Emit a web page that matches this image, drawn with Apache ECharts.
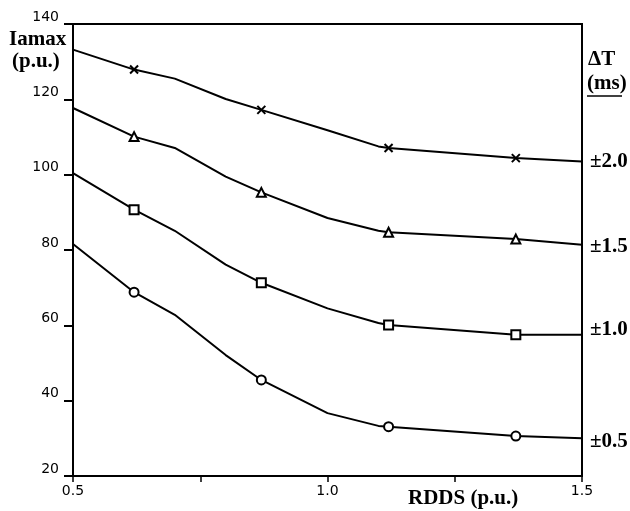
<!DOCTYPE html>
<html>
<head>
<meta charset="utf-8">
<script src="https://cdn.jsdelivr.net/npm/echarts@6/dist/echarts.min.js"></script>
<style>
html,body{margin:0;padding:0;background:#fff;}
#chart{width:630px;height:511px;}
</style>
</head>
<body>
<div id="chart"></div>
<script>
// ---- data ----
var seriesLabels = ['±2.0', '±1.5', '±1.0', '±0.5'];
var curveX = [0.5, 0.62, 0.7, 0.8, 0.87, 1.0, 1.1, 1.12, 1.37, 1.5];
var curve20 = [133.2, 127.9, 125.5, 120.1, 117.2, 111.8, 107.5, 107.1, 104.4, 103.5];
var curve15 = [117.7, 110.1, 107.1, 99.5, 95.3, 88.5, 85.1, 84.7, 82.9, 81.4];
var curve10 = [100.4, 90.7, 85.1, 76.1, 71.3, 64.5, 60.6, 60.1, 57.5, 57.5];
var curve05 = [81.6, 68.8, 62.8, 52.1, 45.5, 36.7, 33.3, 33.1, 30.6, 30.0];
var markerX = [0.62, 0.87, 1.12, 1.37];
var marker20 = [127.9, 117.2, 107.1, 104.4];
var marker15 = [110.1, 95.3, 84.7, 82.9];
var marker10 = [90.7, 71.3, 60.1, 57.5];
var marker05 = [68.8, 45.5, 33.1, 30.6];
var xTickLabels = ['0.5', '1.0', '1.5'];
var yTickLabels = ['20', '40', '60', '80', '100', '120', '140'];

function pairs(xs, ys) { return xs.map(function (x, i) { return [x, ys[i]]; }); }

var curves = [curve20, curve15, curve10, curve05];
var markers = [marker20, marker15, marker10, marker05];
var symbols = ['path://M0,0L10,10M0,10L10,0', 'triangle', 'rect', 'circle'];
var labelOffsets = [[0, 0], [0, 2], [0, -5], [0, 3]];

var serif = '"Liberation Serif", "Times New Roman", serif';
var sans = '"DejaVu Sans", sans-serif';

var series = [];
curves.forEach(function (c, i) {
  series.push({
    type: 'line',
    data: pairs(curveX, c),
    symbol: 'none',
    lineStyle: { color: '#000', width: 2 },
    silent: true,
    z: 2,
    endLabel: {
      show: true,
      formatter: seriesLabels[i],
      distance: 8,
      offset: labelOffsets[i],
      color: '#000',
      fontFamily: serif,
      fontWeight: 'bold',
      fontSize: 21
    }
  });
  series.push({
    type: 'scatter',
    data: pairs(markerX, markers[i]),
    symbol: symbols[i],
    symbolSize: i === 0 ? 8 : 9,
    itemStyle: { color: '#fff', borderColor: '#000', borderWidth: 2, opacity: 1 },
    z: 5
  });
});

var chart = echarts.init(document.getElementById('chart'), null, { renderer: 'canvas' });
chart.setOption({
  animation: false,
  backgroundColor: '#fff',
  grid: { left: 73, right: 48, top: 24, bottom: 35, show: true, borderColor: '#000', borderWidth: 2, backgroundColor: 'transparent' },
  xAxis: {
    type: 'value', min: 0.5, max: 1.5, interval: 0.25,
    splitLine: { show: false },
    axisLine: { lineStyle: { color: '#000', width: 2 } },
    axisTick: { show: true, length: 6, lineStyle: { color: '#000', width: 1.5 } },
    axisLabel: {
      margin: 8, color: '#000', fontFamily: sans, fontSize: 14,
      formatter: function (v) {
        var s = v.toFixed(1);
        return (Math.abs(v * 2 - Math.round(v * 2)) < 1e-6 && xTickLabels.indexOf(s) >= 0) ? s : '';
      }
    }
  },
  yAxis: {
    type: 'value', min: 20, max: 140, interval: 20,
    splitLine: { show: false },
    axisLine: { lineStyle: { color: '#000', width: 2 } },
    axisTick: { show: true, length: 9, lineStyle: { color: '#000', width: 2 } },
    axisLabel: {
      margin: 14, color: '#000', fontFamily: sans, fontSize: 14, verticalAlign: 'bottom',
      formatter: function (v) { var s = String(Math.round(v)); return yTickLabels.indexOf(s) >= 0 ? s : ''; }
    }
  },
  graphic: [
    { type: 'text', left: 9, top: 29, style: { text: 'Iamax', font: 'bold 21px ' + serif, fill: '#000' } },
    { type: 'text', left: 12, top: 51, style: { text: '(p.u.)', font: 'bold 21px ' + serif, fill: '#000' } },
    { type: 'text', left: 588, top: 49, style: { text: 'ΔT', font: 'bold 21px ' + serif, fill: '#000' } },
    { type: 'text', left: 587, top: 73, style: { text: '(ms)', font: 'bold 21px ' + serif, fill: '#000' } },
    { type: 'line', shape: { x1: 587, y1: 96, x2: 622, y2: 96 }, style: { stroke: '#000', lineWidth: 1.5 } },
    { type: 'text', left: 408, top: 488, style: { text: 'RDDS (p.u.)', font: 'bold 21px ' + serif, fill: '#000' } }
  ],
  series: series
});
</script>
</body>
</html>
